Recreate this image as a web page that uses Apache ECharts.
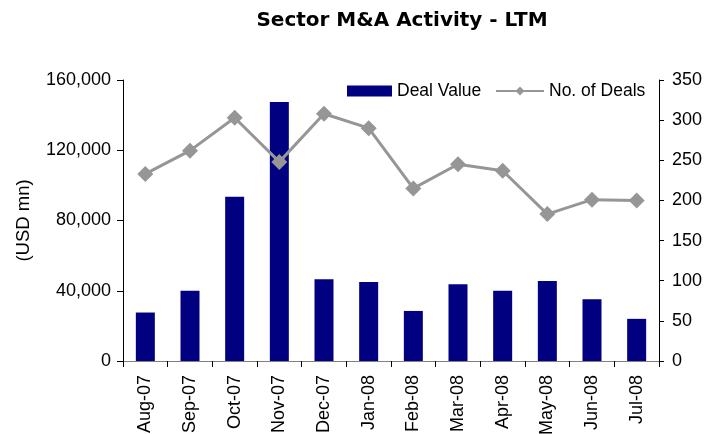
<!DOCTYPE html>
<html>
<head>
<meta charset="utf-8">
<script src="https://cdn.jsdelivr.net/npm/echarts@6/dist/echarts.min.js"></script>
<style>
html,body{margin:0;padding:0;background:#fff;}
#chart{width:715px;height:434px;}
</style>
</head>
<body>
<div id="chart"></div>
<script>
var categories = ['Aug-07','Sep-07','Oct-07','Nov-07','Dec-07','Jan-08','Feb-08','Mar-08','Apr-08','May-08','Jun-08','Jul-08'];
var dealValue = [27600, 40000, 93500, 147500, 46600, 45000, 28500, 43700, 40000, 45600, 35200, 24000];
var numDeals = [233, 262, 303, 248, 308, 290, 215, 245, 237, 183, 201, 200];
var leftTicks = [0, 40000, 80000, 120000, 160000];
var rightTicks = [0, 50, 100, 150, 200, 250, 300, 350];

var chart = echarts.init(document.getElementById('chart'));
var font = 'Liberation Sans, Arial, sans-serif';
var fs = 18;
chart.setOption({
  animation: false,
  title: {
    text: 'Sector M&A Activity - LTM',
    left: 397, top: 6, textAlign: 'center',
    textStyle: {fontFamily: 'DejaVu Sans, Verdana, sans-serif', fontWeight: 'bold', fontSize: 20, color: '#000'}
  },
  legend: [
    {
      left: 342, top: 77,
      textStyle: {fontFamily: font, fontSize: 17.5, color: '#000'},
      data: [{name: 'Deal Value', icon: 'rect', itemStyle: {color: '#000080'}}],
      itemWidth: 45, itemHeight: 11
    },
    {
      left: 490, top: 77,
      textStyle: {fontFamily: font, fontSize: 17.5, color: '#000'},
      data: [{name: 'No. of Deals'}],
      itemWidth: 48, itemHeight: 11
    }
  ],
  grid: {left: 123, right: 56, top: 80, bottom: 73, containLabel: false, outerBoundsMode: 'none'},
  xAxis: {
    type: 'category',
    data: categories,
    axisLine: {lineStyle: {color: '#808080', width: 1}},
    axisTick: {show: true, alignWithLabel: false, length: 6, lineStyle: {color: '#000'}},
    axisLabel: {rotate: 90, fontFamily: font, fontSize: fs, color: '#000', margin: 14}
  },
  yAxis: [
    {
      type: 'value', min: 0, max: 160000, interval: 40000,
      name: '(USD mn)', nameLocation: 'middle', nameGap: 90, nameRotate: 90,
      nameTextStyle: {fontFamily: font, fontSize: 18.5, color: '#000'},
      axisLine: {show: true, lineStyle: {color: '#000'}},
      axisTick: {show: true, length: 6, lineStyle: {color: '#000'}},
      splitLine: {show: false},
      axisLabel: {fontFamily: font, fontSize: fs, color: '#000', margin: 12,
        formatter: function (v) { return v.toLocaleString('en-US'); }}
    },
    {
      type: 'value', min: 0, max: 350, interval: 50, position: 'right',
      axisLine: {show: true, lineStyle: {color: '#000'}},
      axisTick: {show: true, length: 5, lineStyle: {color: '#000'}},
      splitLine: {show: false},
      axisLabel: {fontFamily: font, fontSize: fs, color: '#000', margin: 13}
    }
  ],
  series: [
    {
      name: 'Deal Value', type: 'bar', yAxisIndex: 0,
      data: dealValue, barWidth: 19,
      itemStyle: {color: '#000080'}
    },
    {
      name: 'No. of Deals', type: 'line', yAxisIndex: 1,
      data: numDeals,
      symbol: 'diamond', symbolSize: 16,
      lineStyle: {color: '#969696', width: 3},
      itemStyle: {color: '#969696'}
    }
  ]
});
</script>
</body>
</html>
